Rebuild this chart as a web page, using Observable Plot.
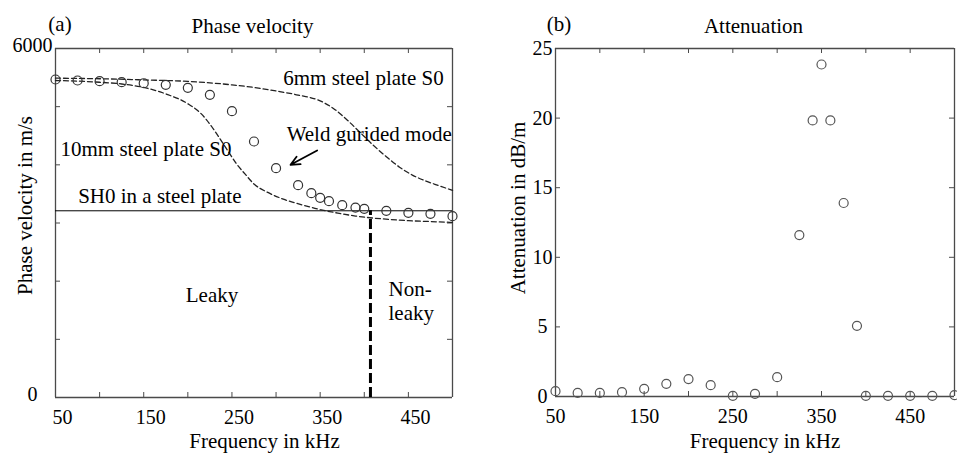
<!DOCTYPE html>
<html><head><meta charset="utf-8">
<script src="https://cdn.jsdelivr.net/npm/d3@7"></script>
<script src="https://cdn.jsdelivr.net/npm/@observablehq/plot@0.6"></script>
<style>
body{margin:0;background:#fff;}
#wrap{position:relative;width:957px;height:460px;overflow:hidden;background:#fff;}
#wrap > svg{position:absolute;top:0;}
#wrap svg, #wrap svg text{font-family:'Liberation Serif','Times New Roman',serif !important;}
</style></head><body><div id="wrap"></div>
<script>
// ---- data ----
const frequencies = [50,75,100,125,150,175,200,225,250,275,300,325,340,350,360,375,390,400,425,450,475,500];
const weldVelocity = [5467,5450,5438,5421,5403,5376,5324,5204,4922,4401,3942,3650,3512,3433,3375,3306,3266,3244,3210,3175,3158,3117];
const weldAttenuation = [0.38,0.26,0.26,0.31,0.55,0.91,1.25,0.81,0.05,0.19,1.39,11.6,19.83,23.85,19.83,13.9,5.08,0.05,0.05,0.05,0.05,0.1];
const plate6Freq = [50,100,150,200,250,275,300,325,350,365,380,395,410,425,440,455,470,485,500];
const plate6Vel = [5490,5480,5460,5435,5375,5330,5270,5200,5100,4970,4780,4560,4340,4140,3960,3820,3720,3640,3560];
const plate10Freq = [50,100,125,150,175,200,215,225,235,245,255,265,275,290,310,330,350,370,390,410,430,450,475,500];
const plate10Vel = [5450,5420,5390,5330,5220,5050,4880,4700,4480,4250,4020,3840,3670,3530,3400,3310,3230,3170,3120,3085,3060,3040,3025,3010];
const sh0Velocity = [3210];
const leakyBoundary = [407];
const freqDomain = [50, 500];
const velDomain = [0, 6000];
const attDomain = [0, 25];
const xTickValues = [50,100,150,200,250,300,350,400,450,500];
const xLabelValues = [50,150,250,350,450];
const velTickValues = [0,1000,2000,3000,4000,5000,6000];
const velLabelValues = [0,6000];
const attTickValues = [0,5,10,15,20,25];
// annotations (panel a)
const annoText = ["6mm steel plate S0","Weld gurided mode","10mm steel plate S0","SH0 in a steel plate","Leaky","Non-","leaky"];
const annoFreq = [490,312,55.7,75.7,227.4,427.5,427.5];
const annoVel = [5496,4525,4276,3468,1766,1869,1448];
const annoAnchor = ["end","start","start","start","middle","start","start"];
const arrowStartFreq = [346.6], arrowStartVel = [4246];
const arrowEndFreq = [316.4], arrowEndVel = [4001];

// ---- styling ----
const serif = "'Liberation Serif','Times New Roman',serif";
const frameColor = "#4a4a4a";
const fs = 21;
const plain = d => String(d);
const wrap = document.getElementById("wrap");

function box(xd, yd) {
  return [
    Plot.ruleX(xd, {x: d => d, stroke: frameColor, strokeWidth: 1.3}),
    Plot.ruleY(yd, {y: d => d, stroke: frameColor, strokeWidth: 1.3})
  ];
}
function inwardTicks(xt, yt, fw, fh) {
  return [
    Plot.tickX(xt, {x: d => d, insetTop: fh - 5, stroke: frameColor}),
    Plot.tickX(xt, {x: d => d, insetBottom: fh - 5, stroke: frameColor}),
    Plot.tickY(yt, {y: d => d, insetRight: fw - 5, stroke: frameColor}),
    Plot.tickY(yt, {y: d => d, insetLeft: fw - 5, stroke: frameColor})
  ];
}
function annoMarks(anchor) {
  const idx = annoText.map((_, i) => i).filter(i => annoAnchor[i] === anchor);
  return Plot.text(idx, {x: i => annoFreq[i], y: i => annoVel[i], text: i => annoText[i], textAnchor: anchor, lineAnchor: "middle", fontSize: fs, fill: "#000"});
}
function label(str, frameAnchor, opts) {
  return Plot.text([str], {frameAnchor, text: d => d, textAnchor: "middle", lineAnchor: "middle", fontSize: fs, fill: "#000", ...opts});
}

// ---- panel (a) ----
const plotA = Plot.plot({
  width: 490, height: 460,
  marginLeft: 55, marginRight: 38, marginTop: 48, marginBottom: 63,
  style: {fontFamily: serif, fontSize: "20px", color: "#000", background: "transparent", overflow: "visible"},
  x: {domain: freqDomain},
  y: {domain: velDomain},
  marks: [
    ...box(freqDomain, velDomain),
    ...inwardTicks(xTickValues, velTickValues, 397, 349),
    Plot.axisX(xLabelValues, {tickSize: 0, tickPadding: 12, dx: 7, tickFormat: plain, label: null}),
    Plot.axisY(velLabelValues, {tickSize: 0, tickPadding: 23, textAnchor: "middle", dy: -3, tickFormat: plain, label: null}),
    Plot.ruleY(sh0Velocity, {y: d => d, stroke: "#000", strokeWidth: 1}),
    Plot.line(plate6Vel, {x: plate6Freq, y: plate6Vel, curve: "monotone-x", stroke: "#222", strokeWidth: 1.3, strokeDasharray: "5,3"}),
    Plot.line(plate10Vel, {x: plate10Freq, y: plate10Vel, curve: "monotone-x", stroke: "#222", strokeWidth: 1.3, strokeDasharray: "5,3"}),
    Plot.ruleX(leakyBoundary, {x: d => d, y1: 0, y2: sh0Velocity[0], stroke: "#000", strokeWidth: 3, strokeDasharray: "10,4"}),
    Plot.dot(frequencies, {x: frequencies, y: weldVelocity, r: 4.5, stroke: "#333", strokeWidth: 1.2, fill: "none"}),
    Plot.arrow([0], {x1: arrowStartFreq, y1: arrowStartVel, x2: arrowEndFreq, y2: arrowEndVel, stroke: "#000", strokeWidth: 1.8, headLength: 10, headAngle: 50}),
    annoMarks("start"), annoMarks("end"), annoMarks("middle"),
    label("(a)", "top-left", {dx: 4.5, dy: -24.7}),
    label("Phase velocity", "top", {dx: -1.5, dy: -22.7}),
    label("Phase velocity in m/s", "left", {rotate: -90, dx: -30, dy: -17.5}),
    label("Frequency in kHz", "bottom", {dx: 10.5, dy: 43.3})
  ]
});
plotA.style.left = "0px";
wrap.appendChild(plotA);

// ---- panel (b) ----
const plotB = Plot.plot({
  width: 467, height: 460,
  marginLeft: 65, marginRight: 3, marginTop: 48, marginBottom: 64,
  style: {fontFamily: serif, fontSize: "20px", color: "#000", background: "transparent", overflow: "visible"},
  x: {domain: freqDomain},
  y: {domain: attDomain},
  marks: [
    ...box(freqDomain, attDomain),
    ...inwardTicks(xTickValues, attTickValues, 399, 348),
    Plot.axisX(xLabelValues, {tickSize: 0, tickPadding: 12, tickFormat: plain, label: null}),
    Plot.axisY(attTickValues, {tickSize: 0, tickPadding: 13, textAnchor: "middle", tickFormat: plain, label: null}),
    Plot.dot(frequencies, {x: frequencies, y: weldAttenuation, r: 4.5, stroke: "#555", strokeWidth: 1.2, fill: "none"}),
    label("(b)", "top-left", {dx: 3.5, dy: -24.7}),
    label("Attenuation", "top", {dx: -1.5, dy: -22.7}),
    label("Attenuation in dB/m", "left", {rotate: -90, dx: -37, dy: -14.5}),
    label("Frequency in kHz", "bottom", {dx: 10, dy: 44.3})
  ]
});
plotB.style.left = "490px";
wrap.appendChild(plotB);
</script>
</body></html>
